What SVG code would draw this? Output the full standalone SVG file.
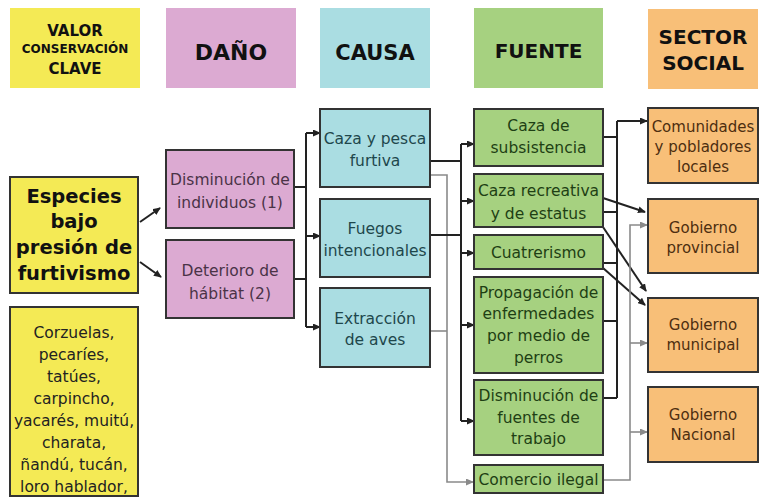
<svg xmlns="http://www.w3.org/2000/svg" width="761" height="498" viewBox="0 0 761 498">
<defs>
<marker id="ad" markerUnits="userSpaceOnUse" markerWidth="8" markerHeight="7" refX="7" refY="3.5" orient="auto"><path d="M0,0 L8,3.5 L0,7 z" fill="#222"/></marker>
<marker id="ag" markerUnits="userSpaceOnUse" markerWidth="8" markerHeight="7" refX="7" refY="3.5" orient="auto"><path d="M0,0 L8,3.5 L0,7 z" fill="#8a8a8a"/></marker>
</defs>
<style>
text{font-family:"DejaVu Sans","Liberation Sans",sans-serif;text-anchor:middle}
.h{font-weight:bold;fill:#111}
.box{stroke:#333;stroke-width:2}
.y{fill:#f4ea55}.p{fill:#dcaad2}.c{fill:#aadde2}.g{fill:#a6d180}.o{fill:#f8bf78}
.t{font-size:15.5px}
.to{font-size:15px}
.tp{fill:#4a3347}.tc{fill:#1e474c}.tg{fill:#1e3f14}.to{fill:#4d2e10}.ty{fill:#222}
.d{fill:none;stroke:#222;stroke-width:2}
.gr{fill:none;stroke:#8a8a8a;stroke-width:1.6}
</style>
<rect width="761" height="498" fill="#fff"/>
<g id="headers">
<g id="h-valor"><rect x="10" y="8" width="130" height="80" class="y"/>
<text class="h" x="75" y="36" font-size="15">VALOR</text>
<text class="h" x="75" y="53" font-size="12">CONSERVACIÓN</text>
<text class="h" x="75" y="74" font-size="15">CLAVE</text></g>
<g id="h-dano"><rect x="166" y="8" width="130" height="80" class="p"/>
<text class="h" x="231" y="60" font-size="22">DAÑO</text></g>
<g id="h-causa"><rect x="320" y="8" width="110" height="80" class="c"/>
<text class="h" x="375" y="60" font-size="21">CAUSA</text></g>
<g id="h-fuente"><rect x="474" y="8" width="129" height="80" class="g"/>
<text class="h" x="538.5" y="58" font-size="20">FUENTE</text></g>
<g id="h-sector"><rect x="648" y="9" width="110" height="80" class="o"/>
<text class="h" x="703" y="44" font-size="20">SECTOR</text>
<text class="h" x="703" y="70" font-size="20">SOCIAL</text></g>
</g>
<g id="connectors">
<path class="d" d="M140,222 L160,208" marker-end="url(#ad)"/>
<path class="d" d="M140,262 L161,277" marker-end="url(#ad)"/>
<path class="d" d="M294,187 H306 M294,279 H306 M306,133 V327"/>
<path class="d" d="M306,133 H320" marker-end="url(#ad)"/>
<path class="d" d="M306,236 H320" marker-end="url(#ad)"/>
<path class="d" d="M306,327 H320" marker-end="url(#ad)"/>
<path class="gr" d="M430,175 H447 V482 H473" marker-end="url(#ag)"/>
<path class="gr" d="M430,331 H447"/>
<path class="d" d="M430,161 H461 M430,235 H461 M461,144 V421"/>
<path class="d" d="M461,144 H474" marker-end="url(#ad)"/>
<path class="d" d="M461,201 H474" marker-end="url(#ad)"/>
<path class="d" d="M461,253 H474" marker-end="url(#ad)"/>
<path class="d" d="M461,325 H474" marker-end="url(#ad)"/>
<path class="d" d="M461,421 H474" marker-end="url(#ad)"/>
<path class="d" d="M603,137 H617 M603,212 H617 M603,263 H617 M603,321 H617 M603,398 H617 M617,121 V398"/>
<path class="d" d="M617,121 H647" marker-end="url(#ad)"/>
<path class="d" d="M603,198 L645,212" marker-end="url(#ad)"/>
<path class="d" d="M603,227 L646,291" marker-end="url(#ad)"/>
<path class="d" d="M603,268 L645,305" marker-end="url(#ad)"/>
<path class="gr" d="M603,480 H630 V225 H647" marker-end="url(#ag)"/>
<path class="gr" d="M630,343 H647" marker-end="url(#ag)"/>
<path class="gr" d="M630,432 H647" marker-end="url(#ag)"/>
</g>
<g id="especies"><rect x="10" y="177" width="128" height="116" class="y box"/>
<text class="h" font-size="19.5" x="74" y="203">Especies</text>
<text class="h" font-size="19.5" x="74" y="228">bajo</text>
<text class="h" font-size="19.5" x="74" y="254">presión de</text>
<text class="h" font-size="19.5" x="74" y="280">furtivismo</text></g>
<g id="lista"><rect x="10" y="307" width="128" height="189" class="y box"/>
<text class="t ty" x="74" y="338">Corzuelas,</text>
<text class="t ty" x="74" y="360">pecaríes,</text>
<text class="t ty" x="74" y="382">tatúes,</text>
<text class="t ty" x="74" y="404">carpincho,</text>
<text class="t ty" x="74" y="426">yacarés, muitú,</text>
<text class="t ty" x="74" y="448">charata,</text>
<text class="t ty" x="74" y="470">ñandú, tucán,</text>
<text class="t ty" x="74" y="492">loro hablador,</text></g>
<g id="disminucion-individuos"><rect x="166" y="150" width="128" height="78" class="p box"/>
<text class="t tp" x="230" y="185">Disminución de</text>
<text class="t tp" x="230" y="208">individuos (1)</text></g>
<g id="deterioro"><rect x="166" y="240" width="128" height="78" class="p box"/>
<text class="t tp" x="230" y="276">Deterioro de</text>
<text class="t tp" x="230" y="299">hábitat (2)</text></g>
<g id="caza-pesca"><rect x="320" y="109" width="110" height="78" class="c box"/>
<text class="t tc" x="375" y="144">Caza y pesca</text>
<text class="t tc" x="375" y="166">furtiva</text></g>
<g id="fuegos"><rect x="320" y="199" width="110" height="78" class="c box"/>
<text class="t tc" x="375" y="234">Fuegos</text>
<text class="t tc" x="375" y="256">intencionales</text></g>
<g id="extraccion"><rect x="320" y="288" width="110" height="79" class="c box"/>
<text class="t tc" x="375" y="324">Extracción</text>
<text class="t tc" x="375" y="345">de aves</text></g>
<g id="caza-subsistencia"><rect x="474" y="109" width="129" height="57" class="g box"/>
<text class="t tg" x="538.5" y="131">Caza de</text>
<text class="t tg" x="538.5" y="153">subsistencia</text></g>
<g id="caza-recreativa"><rect x="474" y="174" width="129" height="53" class="g box"/>
<text class="t tg" x="538.5" y="196">Caza recreativa</text>
<text class="t tg" x="538.5" y="219">y de estatus</text></g>
<g id="cuatrerismo"><rect x="474" y="235" width="129" height="34" class="g box"/>
<text class="t tg" x="538.5" y="258">Cuatrerismo</text></g>
<g id="propagacion"><rect x="474" y="277" width="129" height="96" class="g box"/>
<text class="t tg" x="538.5" y="298">Propagación de</text>
<text class="t tg" x="538.5" y="319">enfermedades</text>
<text class="t tg" x="538.5" y="341">por medio de</text>
<text class="t tg" x="538.5" y="363">perros</text></g>
<g id="disminucion-fuentes"><rect x="474" y="380" width="129" height="75" class="g box"/>
<text class="t tg" x="538.5" y="401">Disminución de</text>
<text class="t tg" x="538.5" y="423">fuentes de</text>
<text class="t tg" x="538.5" y="444">trabajo</text></g>
<g id="comercio"><rect x="474" y="465" width="129" height="28" class="g box"/>
<text class="t tg" x="538.5" y="485">Comercio ilegal</text></g>
<g id="comunidades"><rect x="648" y="108" width="110" height="75" class="o box"/>
<text class="to" x="703" y="132">Comunidades</text>
<text class="to" x="703" y="152">y pobladores</text>
<text class="to" x="703" y="172">locales</text></g>
<g id="gob-provincial"><rect x="648" y="199" width="110" height="74" class="o box"/>
<text class="to" x="703" y="233">Gobierno</text>
<text class="to" x="703" y="253">provincial</text></g>
<g id="gob-municipal"><rect x="648" y="298" width="110" height="74" class="o box"/>
<text class="to" x="703" y="330">Gobierno</text>
<text class="to" x="703" y="350">municipal</text></g>
<g id="gob-nacional"><rect x="648" y="387" width="110" height="75" class="o box"/>
<text class="to" x="703" y="420">Gobierno</text>
<text class="to" x="703" y="440">Nacional</text></g>
</svg>
